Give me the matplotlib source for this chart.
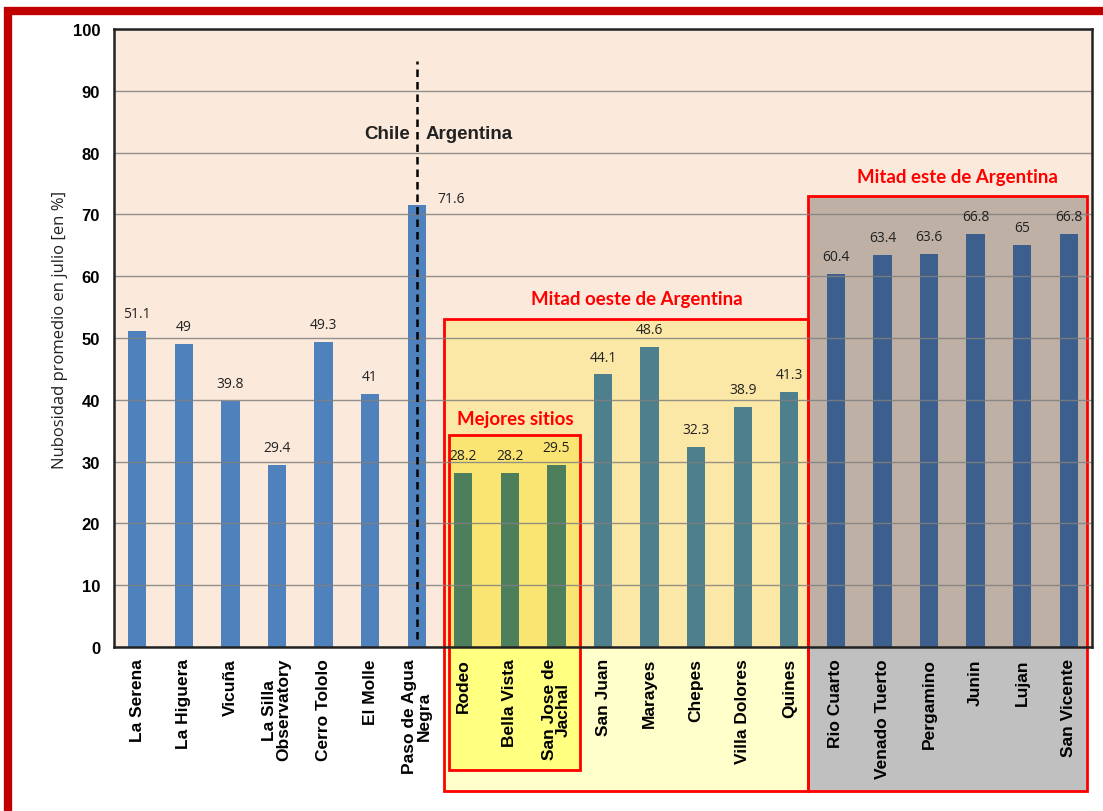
import matplotlib
matplotlib.use("Agg")
import matplotlib.pyplot as plt
from matplotlib.patches import Rectangle

categories = ["La Serena", "La Higuera", "Vicuña", "La Silla\nObservatory", "Cerro Tololo",
              "El Molle", "Paso de Agua\nNegra", "Rodeo", "Bella Vista", "San Jose de\nJachal",
              "San Juan", "Marayes", "Chepes", "Villa Dolores", "Quines", "Rio Cuarto",
              "Venado Tuerto", "Pergamino", "Junin", "Lujan", "San Vicente"]
values = [51.1, 49, 39.8, 29.4, 49.3, 41, 71.6, 28.2, 28.2, 29.5, 44.1, 48.6, 32.3, 38.9,
          41.3, 60.4, 63.4, 63.6, 66.8, 65, 66.8]
value_labels = ["51.1", "49", "39.8", "29.4", "49.3", "41", "71.6", "28.2", "28.2", "29.5",
                "44.1", "48.6", "32.3", "38.9", "41.3", "60.4", "63.4", "63.6", "66.8", "65", "66.8"]
groups = ["chile"] * 7 + ["best"] * 3 + ["west"] * 5 + ["east"] * 6
yticks = [0, 10, 20, 30, 40, 50, 60, 70, 80, 90, 100]

bar_colors = {"chile": "#4F81BD", "best": "#4E7F5D", "west": "#4E7F8C", "east": "#3D5F8D"}

fig = plt.figure(figsize=(11.03, 8.12), dpi=100)
fig.patch.set_facecolor("white")

# red outer frame (cropped)
fig.add_artist(Rectangle((8 / 1103, -0.1), 1.2, 1 - 12 / 812 + 0.1, transform=fig.transFigure,
                         fill=False, edgecolor="#C00000", linewidth=6, zorder=0))

ax = fig.add_axes([114 / 1103, 1 - 648 / 812, (1092 - 114) / 1103, (648 - 30) / 812])
ax.set_facecolor("#FBE9DB")
n = len(categories)
ax.set_xlim(-0.5, n - 0.5)
ax.set_ylim(0, 100)

def box(x0, x1, ytop, ybot, fin, fout, zin):
    ax.add_patch(Rectangle((x0, 0), x1 - x0, ytop, facecolor=fin, edgecolor="none", zorder=zin))
    ax.add_patch(Rectangle((x0, ybot), x1 - x0, -ybot, facecolor=fout, edgecolor="none",
                           zorder=zin, clip_on=False))
    ax.add_patch(Rectangle((x0, ybot), x1 - x0, ytop - ybot, facecolor="none", edgecolor="#FF0000",
                           linewidth=2, zorder=zin + 0.05, clip_on=False))

box(6.586, 14.40, 53.1, -23.3, "#FCE8A6", "#FFFFCC", 0.5)
box(14.40, 20.39, 73.0, -23.3, "#BEB0A5", "#C0C0C0", 0.5)
box(6.69, 9.51, 34.3, -19.9, "#FBE572", "#FFFF80", 0.6)

ax.set_yticks(yticks)
ax.yaxis.grid(True, color="#808080", linewidth=1.0, alpha=0.85)
ax.set_axisbelow(False)
for gl in ax.get_ygridlines():
    gl.set_zorder(1)

x = list(range(n))
ax.bar(x, values, width=0.39, color=[bar_colors[g] for g in groups], zorder=2, edgecolor="none")

for i, (v, lab) in enumerate(zip(values, value_labels)):
    if i == 6:
        ax.text(i + 0.45, 72.5, lab, ha="left", va="center", fontsize=10, family="Open Sans",
                color="#222222", zorder=4)
    else:
        ax.text(i, v + 1.6, lab, ha="center", va="bottom", fontsize=10, family="Open Sans",
                color="#222222", zorder=4)

# Chile / Argentina divider
ax.plot([6, 6], [1.3, 94.8], color="black", linestyle=(0, (3, 2)), linewidth=1.8, zorder=5)
ax.text(5.85, 83.1, "Chile", ha="right", va="center", fontsize=13.5, fontweight="bold",
        family="Liberation Sans", color="#222222")
ax.text(6.2, 83.1, "Argentina", ha="left", va="center", fontsize=13.5, fontweight="bold",
        family="Liberation Sans", color="#222222")

# region titles
ax.text(10.73, 55.0, "Mitad oeste de Argentina", ha="center", va="bottom", fontsize=13.4,
        fontweight="bold", family="Lato", color="#FF0000", clip_on=False)
ax.text(17.6, 74.8, "Mitad este de Argentina", ha="center", va="bottom", fontsize=13.4,
        fontweight="bold", family="Lato", color="#FF0000", clip_on=False)
ax.text(8.11, 35.6, "Mejores sitios", ha="center", va="bottom", fontsize=13.4,
        fontweight="bold", family="Lato", color="#FF0000", clip_on=False)

ax.set_xticks(x)
ax.set_xticklabels(categories, rotation=90, fontsize=12.5, fontweight="bold",
                   family="Liberation Sans", linespacing=0.95)
ax.tick_params(axis="x", length=0, pad=8)
ax.tick_params(axis="y", length=0, pad=10)
for lab in ax.get_yticklabels():
    lab.set_fontweight("bold")
    lab.set_fontsize(12)
    lab.set_family("Liberation Sans")

ax.set_ylabel("Nubosidad promedio en julio [en %]", fontsize=12, family="Open Sans",
              color="#222222")
ax.yaxis.set_label_coords(-0.047, 0.515)

for s in ax.spines.values():
    s.set_color("#222222")
    s.set_linewidth(1.8)
    s.set_zorder(6)

fig.savefig("out.png", dpi=100, facecolor="white")
